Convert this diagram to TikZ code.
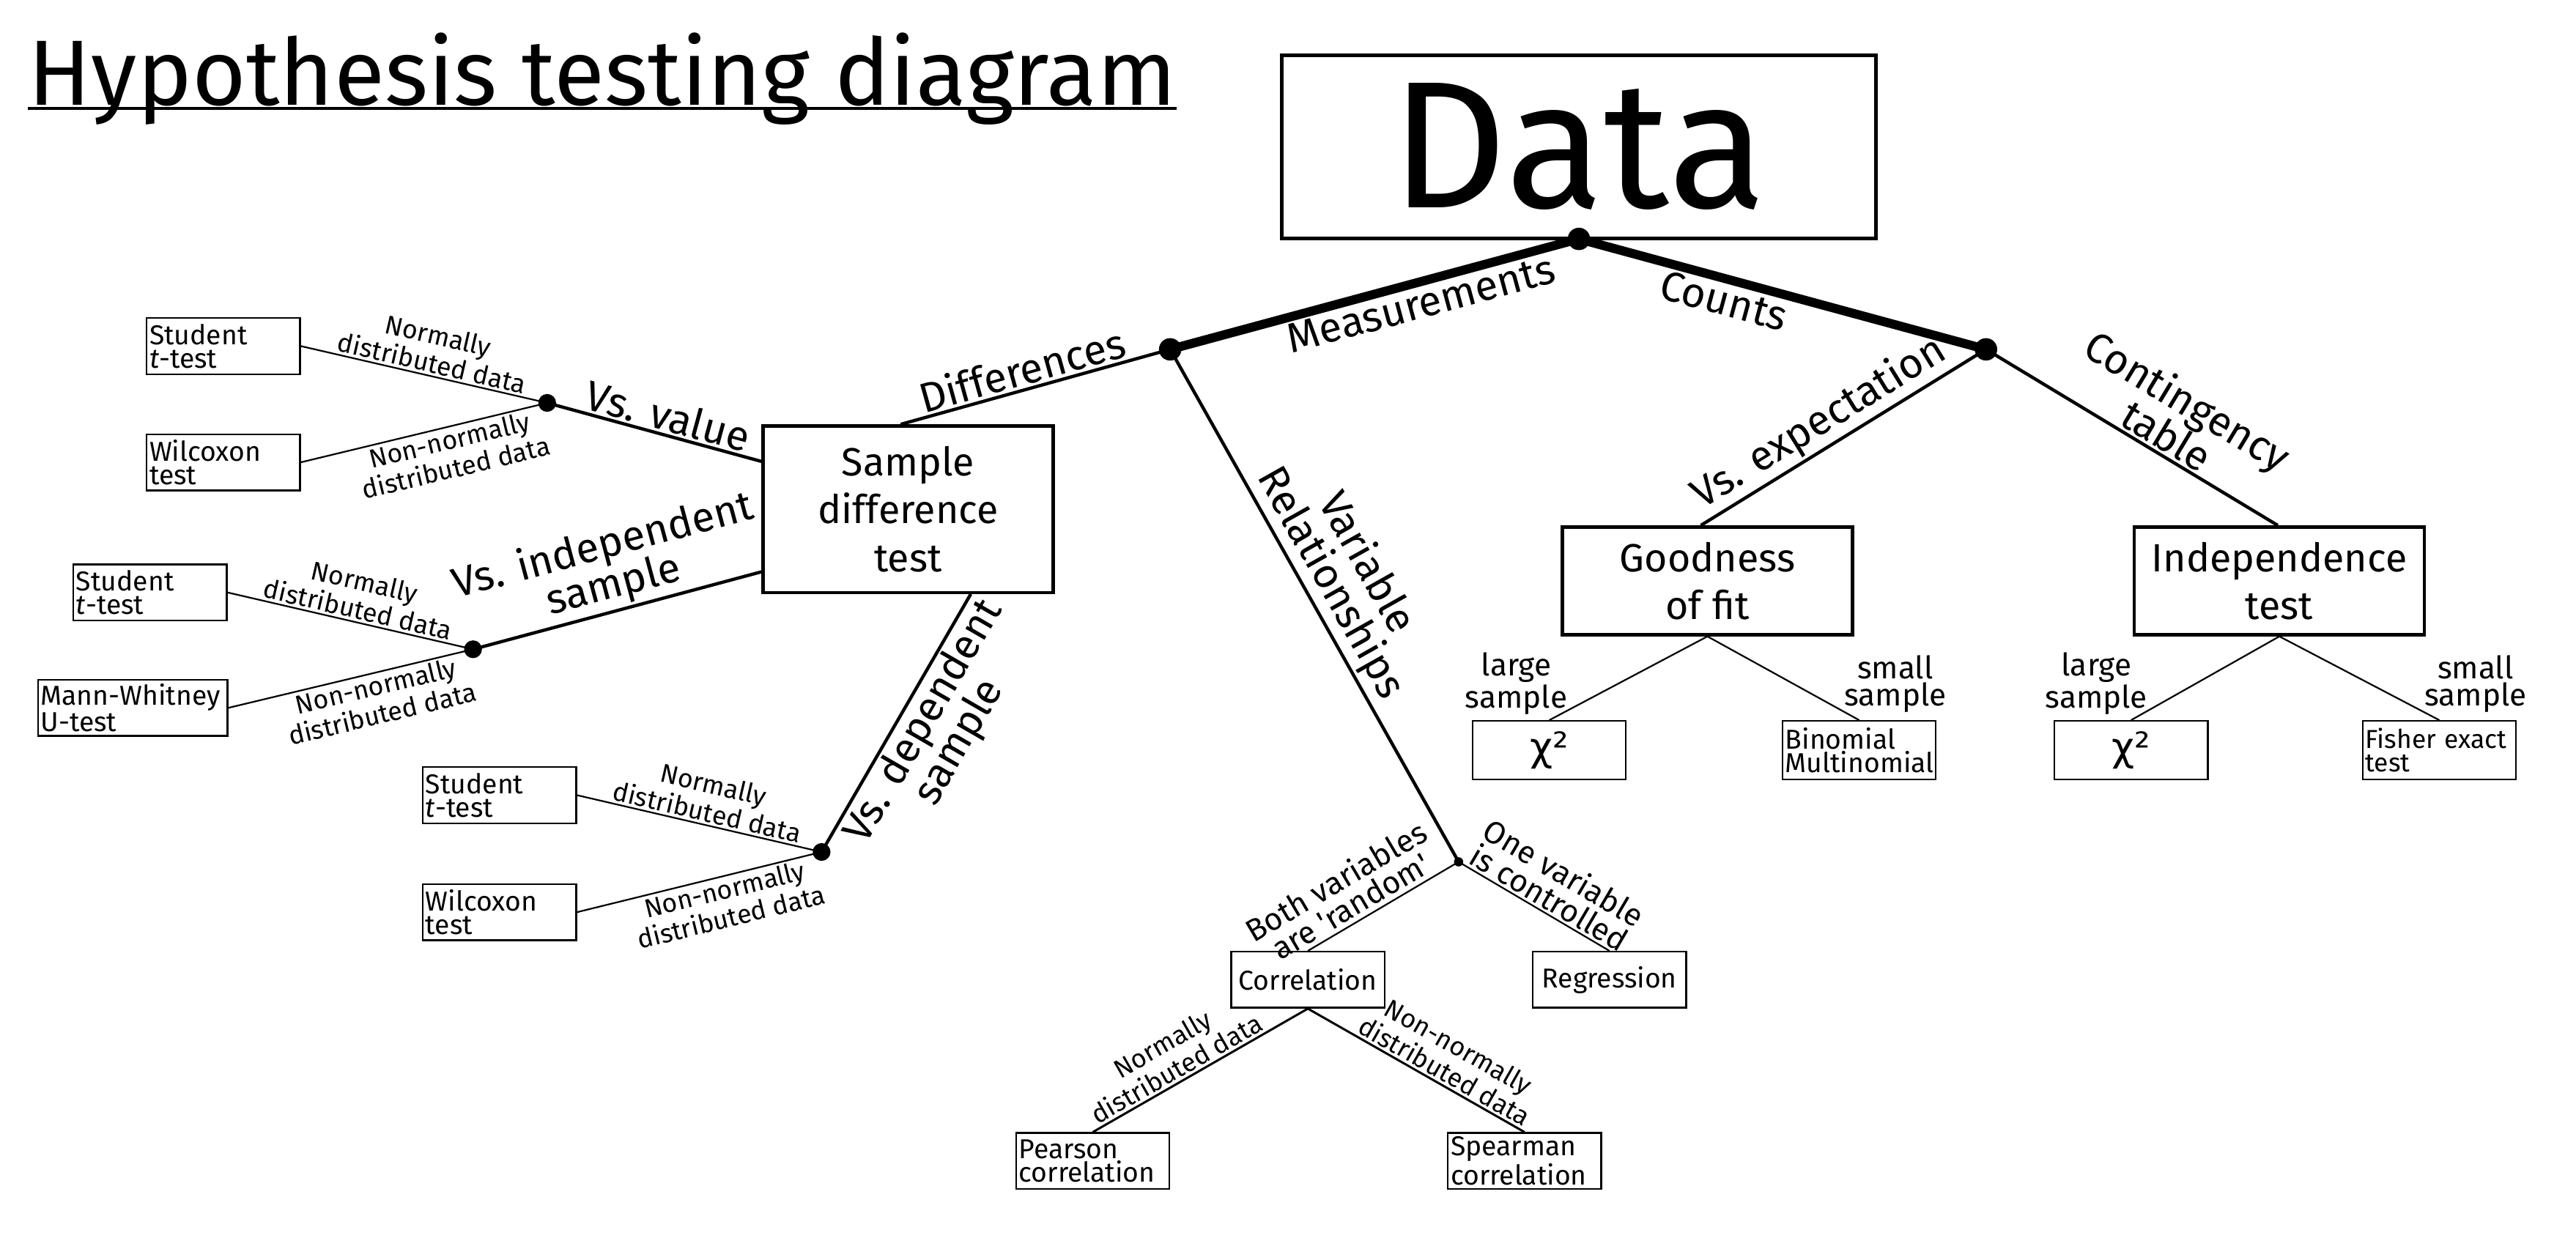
\documentclass[tikz,border=0pt]{standalone}
\usepackage{fontspec}
\setmainfont{Fira Sans}
\newfontfamily\chifont{DejaVu Sans}
\usetikzlibrary{calc}
\pgfdeclarelayer{bg}
\pgfsetlayers{bg,main}
\begin{document}
\begin{tikzpicture}[x=0.025cm,y=-0.025cm,
  every node/.append style={execute at begin node={\hyphenpenalty=10000\relax}},
  mainbox/.style={draw, line width=1.4pt, inner sep=0pt, align=center, font=\fontsize{17}{20.6}\selectfont},
  sbox/.style={draw, line width=0.75pt, inner xsep=1.2pt, inner ysep=0pt, minimum height=0.85cm, minimum width=2.325cm, text width=2.24cm, align=left, anchor=north west, font=\fontsize{11.8}{10}\selectfont},
  cbox/.style={draw, line width=0.75pt, inner sep=0pt, minimum height=0.85cm, minimum width=2.325cm, align=center, anchor=north west, font=\fontsize{11.8}{10}\selectfont},
  bigdot/.style={circle, fill, inner sep=0pt, minimum size=0.34cm},
  middot/.style={circle, fill, inner sep=0pt, minimum size=0.27cm},
  smalldot/.style={circle, fill, inner sep=0pt, minimum size=0.14cm},
  heavy/.style={line width=3.9pt},
  medium/.style={line width=1.4pt},
  fine/.style={line width=0.7pt},
  blab/.style={sloped, inner sep=1pt, align=center, font=\fontsize{18}{17.5}\selectfont},
  slab/.style={sloped, inner sep=1pt, align=center, font=\fontsize{11.3}{10.5}\selectfont},
  mlab/.style={sloped, inner sep=1pt, align=center, font=\fontsize{13.5}{12.5}\selectfont},
  samp/.style={align=center, inner sep=0pt, font=\fontsize{13.4}{11.5}\selectfont},
  chibox/.style={cbox, minimum height=0.8875cm, font=\chifont\fontsize{17}{17}\selectfont},
]
\path[use as bounding box] (0,0) rectangle (1563,764.6);

% title
\node[anchor=base west, inner sep=0pt, font=\fontsize{40}{40}\selectfont] (title) at (17,64) {Hypothesis testing diagram};
\draw[line width=1.1pt] ($(title.base west)+(0,1.8)$) -- ($(title.base east)+(0,1.8)$);

% main boxes
\node[draw, line width=1.6pt, minimum width=9.015cm, minimum height=2.775cm, inner sep=0pt, font=\fontsize{78}{78}\selectfont] (data) at (958,89) {Data};
\node[mainbox, minimum width=4.4cm, minimum height=2.525cm] (sdt) at (551,309) {Sample\\difference\\test};
\node[mainbox, minimum width=4.4cm, minimum height=1.635cm] (gof) at (1036,352.5) {Goodness\\of fit};
\node[mainbox, minimum width=4.4cm, minimum height=1.635cm] (ind) at (1383,352.5) {Independence\\test};

% dots
\node[bigdot] (d0) at (958,145) {};
\node[bigdot] (dm) at (710,212) {};
\node[bigdot] (dc) at (1205,212) {};
\node[middot] (dv) at (332,244.5) {};
\node[middot] (di) at (287,394) {};
\node[middot] (dd) at (498.5,517) {};
\node[smalldot] (dr) at (885,523) {};

% small boxes
\node[sbox] (st1) at (88.5,192.5) {Student\\\textit{t}-test};
\node[sbox] (wx1) at (88.5,263) {Wilcoxon\\test};
\node[sbox] (st2) at (44,342) {Student\\\textit{t}-test};
\node[sbox, minimum width=2.875cm, text width=2.79cm] (mw) at (22.5,412) {Mann-Whitney\\U-test};
\node[sbox] (st3) at (256,465) {Student\\\textit{t}-test};
\node[sbox] (wx3) at (256,536) {Wilcoxon\\test};
\node[cbox] (corr) at (746.5,577) {Correlation};
\node[cbox] (reg) at (929.5,577) {Regression};
\node[sbox] (pear) at (616,687) {Pearson\\correlation};
\node[sbox] (spear) at (878,687) {Spearman\\correlation};
\node[chibox] (chi1) at (893,437) {χ²};
\node[sbox, minimum height=0.8875cm] (bin) at (1081,437) {Binomial\\Multinomial};
\node[chibox] (chi2) at (1246,437) {χ²};
\node[sbox, minimum height=0.8875cm, font=\fontsize{11.2}{10}\selectfont] (fish) at (1433,437) {\mbox{Fisher exact}\\test};

% sample size labels
\node[samp] (ls1) at (920,415) {large\\sample};
\node[samp] (ss1) at (1150,415) {small\\sample};
\node[samp] (ls2) at (1272,415) {large\\sample};
\node[samp] (ss2) at (1502,415) {small\\sample};

\begin{pgfonlayer}{bg}
\draw[heavy] (d0.center) -- (dm.center) node[blab, below, pos=0.4] (lmeas) {Measurements};
\draw[heavy] (d0.center) -- (dc.center) node[blab, below, pos=0.37] (lcount) {Counts};
\draw[medium] (dm.center) -- ($(sdt.north)+(-4.5,0)$) node[blab, above, pos=0.53] (ldiff) {Differences};
\draw[medium] (dm.center) -- (dr.center) node[blab, above, pos=0.48] (lvar) {Variable\\Relationships};
\draw[medium] (dv.center) -- ($(sdt.west)+(0,-29)$) node[blab, above, pos=0.54] (lval) {Vs. value};
\draw[medium] (di.center) -- ($(sdt.west)+(0,38)$) node[blab, above, pos=0.51] (lind) {Vs. independent\\sample};
\draw[medium] (dd.center) -- ($(sdt.south)+(38,0)$) node[blab, below, pos=0.55] (ldep) {Vs. dependent\\sample};

\draw[fine] (st1.east) -- (dv.center) node[slab, above, pos=0.52] (ln1) {Normally\\distributed data};
\draw[fine] (wx1.east) -- (dv.center) node[slab, below, pos=0.59] (lnn1) {Non-normally\\distributed data};
\draw[fine] (st2.east) -- (di.center) node[slab, above, pos=0.52] (ln2) {Normally\\distributed data};
\draw[fine] (mw.east) -- (di.center) node[slab, below, pos=0.59] (lnn2) {Non-normally\\distributed data};
\draw[fine] (st3.east) -- (dd.center) node[slab, above, pos=0.52] (ln3) {Normally\\distributed data};
\draw[fine] (wx3.east) -- (dd.center) node[slab, below, pos=0.59] (lnn3) {Non-normally\\distributed data};

\draw[fine] (corr.north) -- (dr.center) node[mlab, above, pos=0.34, inner sep=1.8pt] (lboth) {Both variables\\are \textquotesingle random\textquotesingle};
\draw[fine] (dr.center) -- (reg.north) node[mlab, above, pos=0.55] (lone) {One variable\\is controlled};
\draw[line width=0.95pt] (pear.north) -- (corr.south) node[slab, above, pos=0.42] (ln4) {Normally\\distributed data};
\draw[line width=0.95pt] (corr.south) -- (spear.north) node[slab, above, pos=0.6] (lnn4) {Non-normally\\distributed data};

\draw[medium] ($(gof.north)+(-4,0)$) -- (dc.center) node[blab, above, pos=0.46] (lexp) {Vs. expectation};
\draw[medium] (dc.center) -- ($(ind.north)+(-1,0)$) node[blab, above, pos=0.585] (lcont) {Contingency\\table};

\draw[fine] (gof.south) -- (chi1.north);
\draw[fine] (gof.south) -- (bin.north);
\draw[fine] (ind.south) -- (chi2.north);
\draw[fine] (ind.south) -- (fish.north);
\end{pgfonlayer}
\end{tikzpicture}
\end{document}
